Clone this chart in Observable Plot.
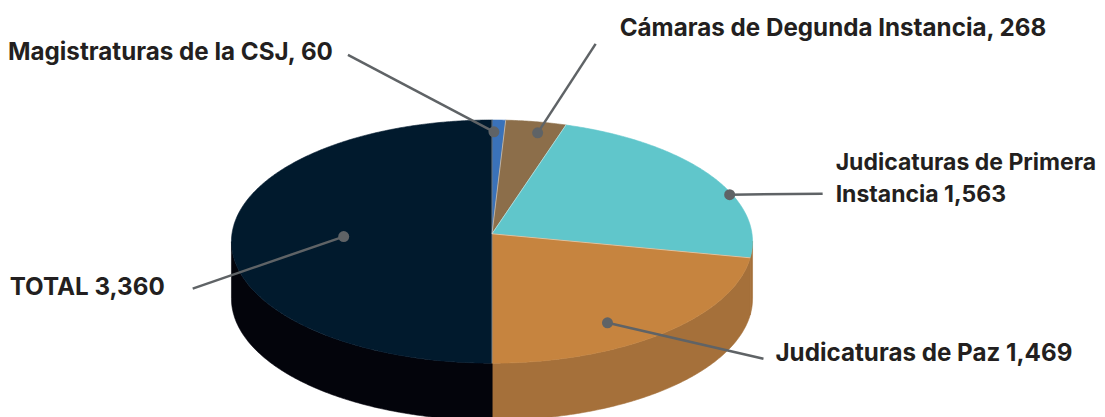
<!DOCTYPE html>
<html><head><meta charset="utf-8">
<script src="https://cdn.jsdelivr.net/npm/d3@7"></script>
<script src="https://cdn.jsdelivr.net/npm/@observablehq/plot@0.6"></script>
<style>body{margin:0;background:#fff;} #chart svg{display:block;}</style>
</head><body><div id="chart"></div>
<script>
// ---- data ----
const categories = ["Magistraturas de la CSJ", "Cámaras de Degunda Instancia", "Judicaturas de Primera Instancia", "Judicaturas de Paz", "TOTAL"];
const values = [60, 268, 1563, 1469, 3360];
const labelTexts = ["Magistraturas de la CSJ, 60", "Cámaras de Degunda Instancia, 268", "Judicaturas de Primera\nInstancia 1,563", "Judicaturas de Paz 1,469", "TOTAL 3,360"];

// ---- styles ----
const topColors  = ["#3a72b9", "#8c6e4a", "#60c6cb", "#c6843f", "#011a2d"];
const sideColors = ["#2f5e98", "#735a3c", "#a5703a", "#a5703a", "#03040b"];

// ---- label layout (anchor shift from slice middle in degrees, radius; leader offset px; text offset px; font size) ----
const labelLayout = [
  {shift: -1.1, r: 0.89, lx: -146, ly: -77, anchor: "end",   tdx: -15, tdy: -17.5, fs: 24.2},
  {shift: 1.5,  r: 0.90, lx: 58,   ly: -89, anchor: "start", tdx: 24,  tdy: -30.5, fs: 24.2},
  {shift: 11.1, r: 0.99, lx: 93,   ly: -1,  anchor: "start", tdx: 13,  tdy: -46,   fs: 23},
  {shift: 8.2,  r: 0.82, lx: 156,  ly: 36,  anchor: "start", tdx: 12,  tdy: -20.5, fs: 24.2},
  {shift: -2.3, r: 0.57, lx: -151, ly: 52,  anchor: "end",   tdx: -28, tdy: -16.5, fs: 24.2}
];

// ---- geometry of the tilted pie ----
const W = 1105, H = 417, CX = 491.5, VY = 233.3, A = 260, B = 121.1, K = 0.0642, DEPTH = 57;
const tilt = B / A, depth = DEPTH / A;
function proj(deg, r = 1, drop = 0) {
  const t = deg * Math.PI / 180;
  const X = r * Math.sin(t), Z = r * Math.cos(t), w = 1 + K * Z;
  return {x: X / w, y: tilt * Z / w - drop};
}
function arc(t0, t1, drop = 0) {
  const n = Math.max(2, Math.ceil((t1 - t0) / 0.5));
  return d3.range(n + 1).map(i => proj(t0 + (t1 - t0) * i / n, 1, drop));
}
const total = d3.sum(values);
const ends = d3.cumsum(values).map(v => v / total * 360);
const starts = [0, ...ends.slice(0, -1)];
const TS1 = Math.acos(-K) * 180 / Math.PI, TS2 = 360 - TS1;

const marks = [];
// sides
values.forEach((v, i) => {
  const s0 = Math.max(starts[i], TS1), s1 = Math.min(ends[i], TS2);
  if (s1 > s0) {
    const pts = arc(s0, s1, 0).concat(arc(s0, s1, depth).reverse());
    marks.push(Plot.line(pts, {x: "x", y: "y", fill: sideColors[i], stroke: sideColors[i], strokeWidth: 0.6, curve: "linear-closed"}));
  }
});
// tops
values.forEach((v, i) => {
  const pts = [{x: 0, y: 0}, ...arc(starts[i], ends[i])];
  marks.push(Plot.line(pts, {x: "x", y: "y", fill: topColors[i], stroke: topColors[i], strokeWidth: 0.6, curve: "linear-closed"}));
});
// radial separators
const seps = starts.map(s => ({p: proj(s)}));
marks.push(Plot.link(seps, {x1: () => 0, y1: () => 0, x2: d => d.p.x, y2: d => d.p.y, stroke: "white", strokeOpacity: 0.55, strokeWidth: 0.8}));

// labels
const labels = values.map((v, i) => {
  const L = labelLayout[i];
  const p = proj((starts[i] + ends[i]) / 2 + L.shift, L.r);
  return {name: categories[i], text: labelTexts[i], ax: p.x, ay: p.y, ex: p.x + L.lx / A, ey: p.y - L.ly / A, ...L};
});
marks.push(Plot.link(labels, {x1: "ax", y1: "ay", x2: "ex", y2: "ey", stroke: "#5f6366", strokeWidth: 2.5}));
marks.push(Plot.dot(labels, {x: "ax", y: "ay", r: 5.5, fill: "#5f6366", stroke: "none"}));
labels.forEach(d => marks.push(Plot.text([d], {
  x: "ex", y: "ey", text: "text", textAnchor: d.anchor, lineAnchor: "top",
  dx: d.tdx, dy: d.tdy, fill: "#231f20", fontSize: d.fs, fontWeight: 700, lineHeight: 32 / d.fs
})));

const chart = Plot.plot({
  width: W, height: H,
  margin: 0,
  x: {domain: [-1, 1], range: [CX - A, CX + A], axis: null},
  y: {domain: [-1, 1], range: [VY + A, VY - A], axis: null},
  style: {fontFamily: "Inter, Lato, sans-serif", background: "#fff", overflow: "hidden"},
  marks
});
document.getElementById("chart").append(chart);
</script>
</body></html>
